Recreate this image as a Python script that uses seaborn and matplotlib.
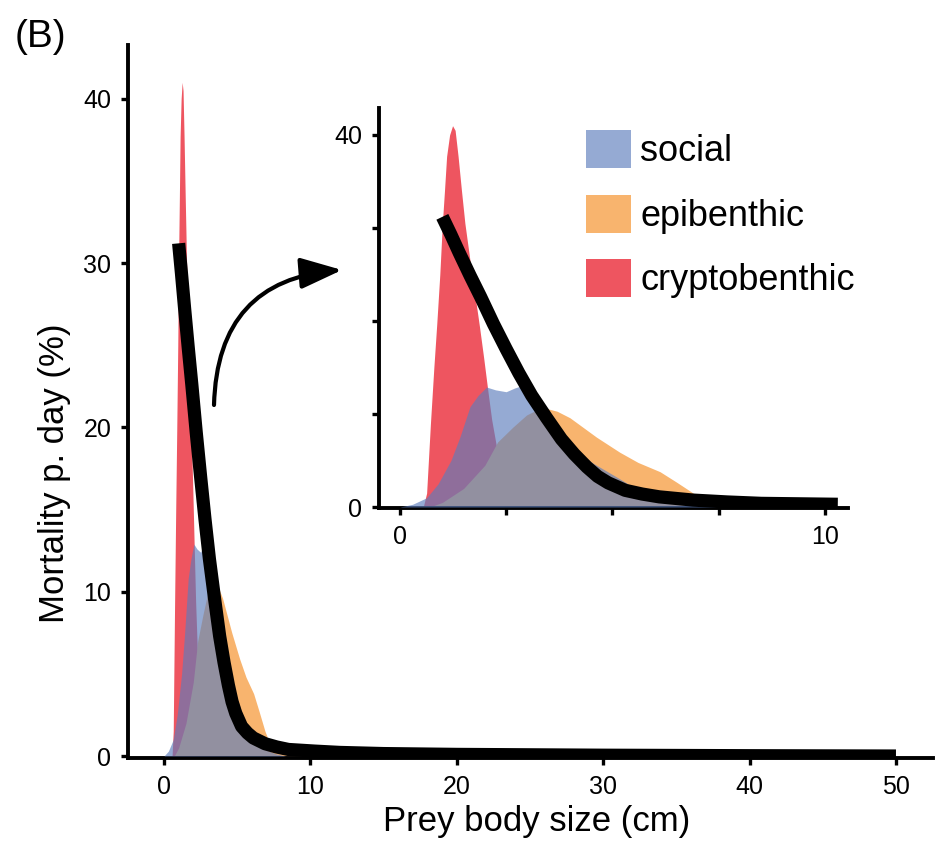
import numpy as np
import pandas as pd
import matplotlib
matplotlib.use("Agg")
import matplotlib.pyplot as plt
import seaborn as sns

# ---------------- data ----------------
crypto_x = [0.55, 0.63, 0.72, 0.8, 0.87, 0.94, 1.0, 1.05, 1.1, 1.17, 1.24, 1.3, 1.37,
            1.45, 1.53, 1.65, 1.76, 1.87, 1.97, 2.07, 2.16, 2.3, 2.5, 2.7, 2.9, 3.2,
            3.5, 3.8, 4.1, 4.4]
crypto_y = [0, 1.5, 9, 15, 19.8, 25, 30.5, 34, 37.7, 40, 41, 40.5, 37.7,
            34, 30.5, 26.5, 23, 19.5, 16.1, 12.5, 9.4, 5.8, 2.9, 2.0, 1.8, 1.6,
            1.3, 0.9, 0.4, 0]

social_x = [0.0, 0.3, 0.63, 0.9, 1.2, 1.41, 1.65, 1.84, 2.04, 2.25, 2.5, 2.7, 2.9,
            3.14, 3.35, 3.6, 4.0, 4.55, 5.0, 5.33, 5.72, 6.2, 6.9, 7.6, 8.3]
social_y = [0, 0.3, 1.0, 2.5, 5.0, 7.5, 10.8, 12.0, 12.9, 12.6, 12.4, 12.8, 13.1,
            12.0, 10.4, 8.7, 6.6, 4.7, 3.5, 2.6, 1.5, 0.9, 0.4, 0.15, 0]

epi_x = [0.7, 1.0, 1.5, 2.0, 2.3, 2.66, 2.98, 3.2, 3.45, 3.7, 4.0, 4.3, 4.63, 5.17,
         5.6, 6.12, 6.5, 6.9, 7.3, 7.8, 8.5, 9.5]
epi_y = [0, 0.5, 2.0, 4.5, 7.0, 8.6, 9.9, 10.4, 10.6, 10.3, 9.6, 8.6, 7.5, 5.9,
         4.8, 3.8, 2.7, 1.5, 0.6, 0.25, 0.1, 0]

mort_x = [1.0, 1.2, 1.4, 1.65, 1.9, 2.2, 2.5, 2.8, 3.1, 3.45, 3.8, 4.1, 4.4, 4.65,
          4.9, 5.3, 5.7, 6.1, 6.9, 7.7, 8.5, 10.3, 12, 15, 20, 30, 40, 50]
mort_y = [31.2, 29.3, 27.3, 24.9, 22.6, 19.7, 17.0, 14.4, 12.0, 9.6, 7.3, 5.7, 4.3, 3.3,
          2.6, 1.8, 1.4, 1.1, 0.75, 0.55, 0.4, 0.3, 0.22, 0.15, 0.1, 0.05, 0.02, 0.0]

group_labels = ["social", "epibenthic", "cryptobenthic"]
main_xticks = [0, 10, 20, 30, 40, 50]
main_yticks = [0, 10, 20, 30, 40]
inset_xticks = [0, 2.5, 5, 7.5, 10]
inset_xticklabels = ["0", "", "", "", "10"]
inset_yticks = [0, 10, 20, 30, 40]
inset_yticklabels = ["0", "", "", "", "40"]
INSET_XMAX = 10.3

# ---------------- style ----------------
sns.set_style("ticks")
plt.rcParams["font.family"] = ["Liberation Sans", "DejaVu Sans"]
for k in ["text.color", "axes.labelcolor", "xtick.color", "ytick.color",
          "axes.edgecolor"]:
    plt.rcParams[k] = "black"

COL_SOCIAL = "#5c7dbc"
COL_EPI = "#f8b46e"
COL_CRYPTO = "#ee5560"
A_SOCIAL = 0.65

SPINE_W = 2.8
LINE_W = 9.5

fig = plt.figure(figsize=(9.41, 8.48), dpi=100)

ax = fig.add_axes([128 / 941, 1 - 758 / 848, (933 - 128) / 941, (758 - 45) / 848])
axi = fig.add_axes([379 / 941, 1 - 508 / 848, (848 - 379) / 941, (508 - 108) / 848])

mort_df = pd.DataFrame({"size": mort_x, "mort": mort_y})


def draw(a, curve_df):
    hc = a.fill_between(crypto_x, 0, crypto_y, color=COL_CRYPTO, lw=0,
                        label=group_labels[2], zorder=1)
    he = a.fill_between(epi_x, 0, epi_y, color=COL_EPI, lw=0,
                        label=group_labels[1], zorder=2)
    hs = a.fill_between(social_x, 0, social_y, color=COL_SOCIAL, alpha=A_SOCIAL, lw=0,
                        label=group_labels[0], zorder=3)
    sns.lineplot(data=curve_df, x="size", y="mort", ax=a, color="black", lw=LINE_W,
                 solid_capstyle="butt", zorder=5, legend=False)
    if a.get_legend() is not None:
        a.get_legend().remove()
    for s in ["top", "right"]:
        a.spines[s].set_visible(False)
    for s in ["left", "bottom"]:
        a.spines[s].set_linewidth(SPINE_W)
        a.spines[s].set_color("black")
    a.tick_params(direction="out", length=5, width=2.4, pad=7, labelsize=18,
                  colors="black")
    a.set_xlabel("")
    a.set_ylabel("")
    return hs, he, hc


draw(ax, mort_df)
ax.set_xlim(-2.46, 52.53)
ax.set_ylim(-0.12, 43.27)
ax.set_xticks(main_xticks)
ax.set_yticks(main_yticks)
ax.set_xlabel("Prey body size (cm)", fontsize=25)
ax.set_ylabel("Mortality p. day (%)", fontsize=25)
ax.yaxis.set_label_coords(-0.071, 0.40)
ax.xaxis.set_label_coords(0.507, -0.066)

hs, he, hc = draw(axi, mort_df[mort_df["size"] <= INSET_XMAX])
axi.set_xlim(-0.49, 10.54)
axi.set_ylim(-0.1, 42.9)
axi.set_xticks(inset_xticks)
axi.set_xticklabels(inset_xticklabels)
axi.set_yticks(inset_yticks)
axi.set_yticklabels(inset_yticklabels)
axi.patch.set_alpha(0)

fig.legend(handles=[hs, he, hc], labels=group_labels, loc="upper left",
           bbox_to_anchor=(586 / 941, 1 - 130 / 848), bbox_transform=fig.transFigure,
           frameon=False, fontsize=26, handlelength=1.25, handleheight=1.25,
           labelspacing=0.7, handletextpad=0.25, borderpad=0, borderaxespad=0)

ax.annotate("", xy=(342 / 941, 1 - 270 / 848), xytext=(214 / 941, 1 - 405 / 848),
            xycoords="figure fraction", textcoords="figure fraction",
            arrowprops=dict(arrowstyle="-|>,head_length=0.8,head_width=0.3",
                            connectionstyle="arc3,rad=-0.45", lw=3, color="black",
                            mutation_scale=32, shrinkA=0, shrinkB=0))

fig.text(15 / 941, 1 - 37 / 848, "(B)", fontsize=28, va="center", ha="left")

fig.savefig("out.png", dpi=100)
